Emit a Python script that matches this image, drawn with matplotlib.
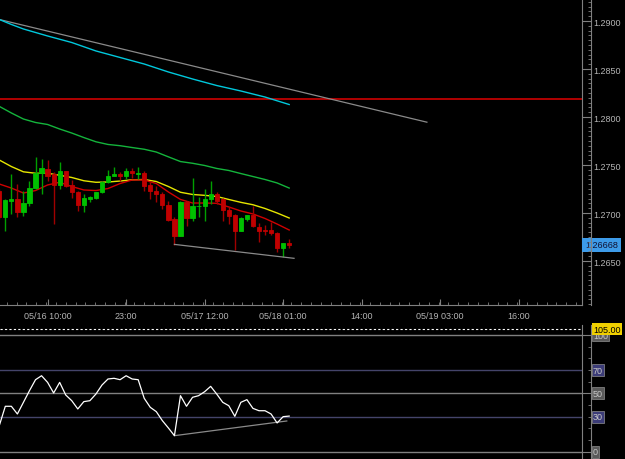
import matplotlib
matplotlib.use('Agg')
import matplotlib.pyplot as plt
import matplotlib.transforms as mtransforms
from matplotlib.ticker import FixedLocator, MultipleLocator, NullFormatter, FormatStrFormatter

plt.rcParams['font.family'] = ['Liberation Sans', 'DejaVu Sans']

# hourly candles, first bar = 05/16 02:00 (hours counted from 05/16 00:00)
first_hour = 2
opens = [1.27233, 1.26955, 1.27125, 1.27146, 1.27014, 1.27104, 1.27257, 1.27417, 1.27458, 1.27406,
         1.27292, 1.27434, 1.27292, 1.27215, 1.27083, 1.27146, 1.27156, 1.27215, 1.27319, 1.27389,
         1.27406, 1.27382, 1.27437, 1.27410, 1.27417, 1.27292, 1.27233, 1.27198, 1.27083, 1.26938,
         1.26764, 1.27118, 1.26944, 1.27069, 1.27076, 1.27146, 1.27198, 1.27146, 1.27035, 1.26979,
         1.26816, 1.26938, 1.26979, 1.26858, 1.26823, 1.26823, 1.26788, 1.26635, 1.26688]
highs = [1.27250, 1.27146, 1.27406, 1.27302, 1.27233, 1.27330, 1.27580, 1.27563, 1.27552, 1.27424,
         1.27528, 1.27441, 1.27347, 1.27233, 1.27198, 1.27181, 1.27222, 1.27330, 1.27451, 1.27483,
         1.27424, 1.27469, 1.27469, 1.27476, 1.27441, 1.27319, 1.27285, 1.27222, 1.27128, 1.26955,
         1.27128, 1.27122, 1.27361, 1.27163, 1.27250, 1.27330, 1.27215, 1.27153, 1.27059, 1.26990,
         1.26955, 1.26983, 1.27069, 1.26896, 1.26875, 1.26903, 1.26799, 1.26684, 1.26729]
lows = [1.26938, 1.26816, 1.26990, 1.26955, 1.26972, 1.27069, 1.27250, 1.27198, 1.27337, 1.26885,
        1.27250, 1.27267, 1.27153, 1.27024, 1.27014, 1.27111, 1.27146, 1.27208, 1.27309, 1.27389,
        1.27337, 1.27354, 1.27361, 1.27354, 1.27233, 1.27146, 1.27111, 1.27042, 1.26920, 1.26670,
        1.26757, 1.26868, 1.26920, 1.26955, 1.26920, 1.27094, 1.27094, 1.26920, 1.26885, 1.26615,
        1.26816, 1.26920, 1.26851, 1.26701, 1.26771, 1.26771, 1.26590, 1.26545, 1.26635]
closes = [1.26955, 1.27135, 1.27146, 1.27014, 1.27104, 1.27257, 1.27417, 1.27465, 1.27389, 1.27292,
          1.27434, 1.27285, 1.27215, 1.27083, 1.27153, 1.27163, 1.27215, 1.27319, 1.27382, 1.27406,
          1.27389, 1.27434, 1.27413, 1.27417, 1.27285, 1.27233, 1.27198, 1.27083, 1.26931, 1.26764,
          1.27118, 1.26944, 1.27069, 1.27076, 1.27146, 1.27198, 1.27128, 1.27035, 1.26972, 1.26816,
          1.26948, 1.26979, 1.26861, 1.26816, 1.26816, 1.26788, 1.26635, 1.26684, 1.26668]

# moving averages, read at every few bars (bar index)
ma_slow_idx = [0, 2, 4, 8, 12, 16, 20, 24, 28, 32, 36, 40, 44, 48]
ma_slow = [1.29016, 1.28964, 1.28917, 1.28844, 1.28776, 1.28688, 1.28620, 1.28552, 1.28469,
           1.28396, 1.28328, 1.28271, 1.28208, 1.28130]
ma_idx = list(range(0, 49, 2))
ma_green = [1.28111, 1.28042, 1.27979, 1.27943, 1.27922, 1.27875, 1.27833, 1.27786, 1.27742,
            1.27714, 1.27701, 1.27682, 1.27664, 1.27635, 1.27585, 1.27536, 1.27518, 1.27495,
            1.27464, 1.27443, 1.27411, 1.27380, 1.27349, 1.27313, 1.27260]
ma_yellow = [1.27552, 1.27484, 1.27429, 1.27414, 1.27414, 1.27393, 1.27370, 1.27336, 1.27320,
             1.27323, 1.27333, 1.27346, 1.27349, 1.27328, 1.27276, 1.27216, 1.27193, 1.27184,
             1.27172, 1.27141, 1.27111, 1.27086, 1.27047, 1.27000, 1.26948]
ma_red = [1.27302, 1.27260, 1.27208, 1.27234, 1.27292, 1.27320, 1.27276, 1.27240, 1.27234,
          1.27255, 1.27307, 1.27344, 1.27344, 1.27307, 1.27219, 1.27141, 1.27104, 1.27104,
          1.27101, 1.27063, 1.27021, 1.26990, 1.26943, 1.26885, 1.26823]

# drawn objects
hline_price = 1.28188
trend_hours = [2.12, 72.8]
trend_prices = [1.29014, 1.27946]
support_hours = [31, 50.8]
support_prices = [1.26673, 1.26528]
last_price = 1.26668

rsi = [22.3, 38.9, 38.9, 32.3, 42.3, 52.3, 61.7, 65.1, 59.4, 50.3,
       59.4, 48.6, 43.7, 36.6, 42.9, 43.7, 49.4, 57.1, 62.3, 62.9,
       61.7, 65.1, 62.3, 61.7, 45.7, 38.0, 34.3, 26.6, 20.3, 13.7,
       48.0, 38.9, 46.6, 48.0, 51.4, 56.0, 49.4, 42.3, 39.4, 30.3,
       42.3, 44.6, 37.1, 35.1, 35.1, 32.3, 24.6, 30.0, 30.5]
rsi_trend_hours = [31, 49.6]
rsi_trend_vals = [13.7, 26.3]
rsi_levels = [100, 70, 50, 30, 0]

tick_hours = [10, 23, 36, 49, 62, 75, 88]
tick_labels = ['05/16 10:00', '23:00', '05/17 12:00', '05/18 01:00', '14:00', '05/19 03:00', '16:00']

hours = [first_hour + i for i in range(len(opens))]
XLIM = (2.12, 98.48)
GRAY = '#808080'
TXT = '#b4b4b4'

fig = plt.figure(figsize=(6.25, 4.6), dpi=100)
fig.patch.set_facecolor('black')
W, H = 625.0, 460.0

# ---- price panel
ax = fig.add_axes([0, (H - 306) / H, 582 / W, 306 / H])
ax.set_facecolor('black')
ax.set_xlim(*XLIM)
ax.set_ylim(1.260417, 1.292292)

ax.axhline(hline_price, color='#e00000', lw=1.1, zorder=2)
ax.plot(trend_hours, trend_prices, color='#8a8a8a', lw=0.9, zorder=2)
ax.plot([hours[i] for i in ma_slow_idx], ma_slow, color='#00c8dc', lw=1.0, zorder=3)
ax.plot([hours[i] for i in ma_idx], ma_green, color='#14b43c', lw=1.0, zorder=3)
ax.plot([hours[i] for i in ma_idx], ma_yellow, color='#e6e600', lw=1.0, zorder=3)
ax.plot([hours[i] for i in ma_idx], ma_red, color='#d00000', lw=1.0, zorder=3)

for h, o, hi, lo, c in zip(hours, opens, highs, lows, closes):
    up = c >= o
    body = '#00c000' if up else '#c00000'
    wick = '#00a000' if up else '#a00000'
    ax.vlines(h, lo, hi, color=wick, lw=1.0, zorder=4)
    ax.bar(h, abs(c - o), bottom=min(o, c), width=0.7, color=body,
           edgecolor=body, linewidth=0.6, zorder=5)

ax.plot(support_hours, support_prices, color='#8a8a8a', lw=0.9, zorder=6)

for s in ['top', 'left']:
    ax.spines[s].set_visible(False)
ax.spines['right'].set_color(GRAY)
ax.spines['bottom'].set_color(GRAY)
ax.yaxis.set_visible(False)
ax.xaxis.set_major_locator(FixedLocator(tick_hours))
ax.xaxis.set_minor_locator(MultipleLocator(13 / 8))
ax.set_xticklabels(tick_labels)
ax.tick_params(axis='x', which='major', direction='in', length=4.5, color=GRAY,
               labelcolor=TXT, labelsize=6.5, pad=4)
ax.tick_params(axis='x', which='minor', direction='in', length=2, color=GRAY)

# price scale
axs = fig.add_axes([0, (H - 306) / H, 591 / W, 306 / H], facecolor='none')
axs.set_ylim(ax.get_ylim())
axs.set_xlim(*XLIM)
for s in ['top', 'left', 'bottom']:
    axs.spines[s].set_visible(False)
axs.spines['right'].set_color(GRAY)
axs.xaxis.set_visible(False)
axs.yaxis.tick_right()
axs.yaxis.set_major_locator(MultipleLocator(0.005))
axs.yaxis.set_minor_locator(MultipleLocator(0.0005))
axs.yaxis.set_major_formatter(FormatStrFormatter('%.4f'))
axs.tick_params(axis='y', which='major', direction='in', length=6.5, color=GRAY,
                labelcolor=TXT, labelsize=6.5, pad=1.5)
axs.tick_params(axis='y', which='minor', direction='in', length=2.5, color=GRAY)

tr = mtransforms.blended_transform_factory(ax.transAxes, ax.transData)
ax.text(585 / 582, last_price, '%.5f' % last_price, transform=tr, fontsize=6.5,
        color='#101030', va='center', ha='left', clip_on=False, zorder=10,
        bbox=dict(boxstyle='square,pad=0.3', facecolor='#3d9be9', edgecolor='none'))

# ---- RSI panel
ax2 = fig.add_axes([0, 0, 582 / W, 134 / H])
ax2.set_facecolor('black')
ax2.set_xlim(*XLIM)
ax2.set_ylim(-6.3, 108.6)
level_colors = [GRAY, '#44446a', GRAY, '#44446a', GRAY]
for lv, col in zip(rsi_levels, level_colors):
    ax2.axhline(lv, color=col, lw=1.0, zorder=1)
ax2.axhline(105, color='white', lw=0.8, linestyle=(0, (2, 2)), zorder=1)
ax2.plot(hours, rsi, color='white', lw=0.9, zorder=3)
ax2.plot(rsi_trend_hours, rsi_trend_vals, color='#8a8a8a', lw=0.9, zorder=2)
for s in ['top', 'left', 'bottom']:
    ax2.spines[s].set_visible(False)
ax2.spines['right'].set_color(GRAY)
ax2.set_xticks([])
ax2.set_yticks([])

axs2 = fig.add_axes([0, 0, 591 / W, 134 / H], facecolor='none')
axs2.set_ylim(ax2.get_ylim())
axs2.set_xlim(*XLIM)
for s in ['top', 'left', 'bottom']:
    axs2.spines[s].set_visible(False)
axs2.spines['right'].set_color(GRAY)
axs2.xaxis.set_visible(False)
axs2.yaxis.tick_right()
axs2.yaxis.set_major_locator(FixedLocator([0, 50, 100]))
axs2.yaxis.set_minor_locator(MultipleLocator(10))
axs2.yaxis.set_major_formatter(NullFormatter())
axs2.tick_params(axis='y', which='major', direction='in', length=6.5, color=GRAY)
axs2.tick_params(axis='y', which='minor', direction='in', length=2.5, color=GRAY)

tr2 = mtransforms.blended_transform_factory(ax2.transAxes, ax2.transData)
box_colors = ['#5a5a5a', '#3c3c78', '#5a5a5a', '#3c3c78', '#5a5a5a']
for lv, bc in zip(rsi_levels, box_colors):
    ax2.text(593 / 582, lv, str(lv), transform=tr2, fontsize=6.5, color='#c8c8c8',
             va='center', ha='left', clip_on=False, zorder=10,
             bbox=dict(boxstyle='square,pad=0.15', facecolor=bc, edgecolor='#909090', lw=0.5))
ax2.text(593 / 582, 105, '105.00', transform=tr2, fontsize=6.5, color='black',
         va='center', ha='left', clip_on=False, zorder=11,
         bbox=dict(boxstyle='square,pad=0.15', facecolor='#f0d000', edgecolor='none'))

fig.savefig('out.png', dpi=100, facecolor='black')
